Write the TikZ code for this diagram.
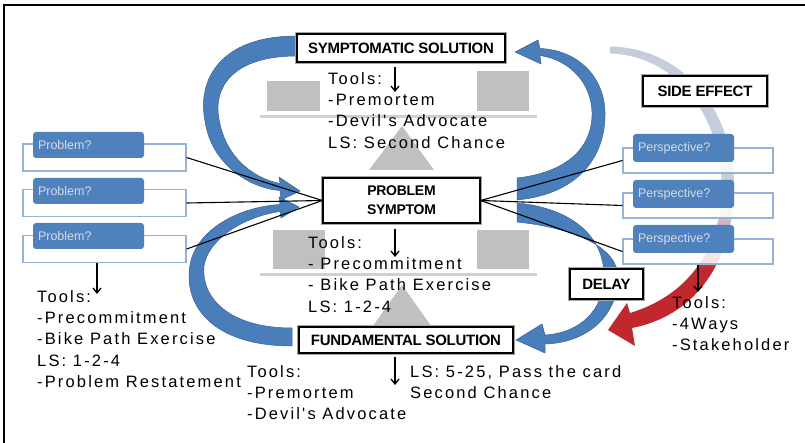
\documentclass[tikz,border=0pt]{standalone}
\usepackage{fontspec}
\setmainfont{Liberation Sans}
\newfontfamily\toolfont[LetterSpace=13]{Liberation Sans}
\newfontfamily\labelfont[LetterSpace=-2]{Liberation Sans}
\usetikzlibrary{arrows.meta}

\definecolor{arrowblue}{RGB}{74,126,187}
\definecolor{arrowedge}{RGB}{58,98,148}
\definecolor{boxblue}{RGB}{79,129,189}
\definecolor{outlineblue}{RGB}{149,179,215}
\definecolor{balancegray}{RGB}{192,192,192}
\definecolor{beamgray}{RGB}{208,208,208}
\definecolor{qtext}{RGB}{212,220,234}
\definecolor{sered}{RGB}{192,40,45}
\definecolor{sepink}{RGB}{222,160,172}
\definecolor{segrey}{RGB}{198,205,218}

\pgfdeclareverticalshading{sideshade}{100bp}{color(0bp)=(sered); color(38bp)=(sered); color(43.5bp)=(sepink); color(48.5bp)=(segrey); color(100bp)=(segrey)}

\tikzset{
    titlebox/.style={
        draw=black,
        line width=1.4pt,
        fill=white,
        inner sep=0pt,
        preaction={draw=black!35, line width=3.4pt},
        font=\labelfont\bfseries\fontsize{15}{17}\selectfont
    },
    qbox/.style={
        fill=boxblue,
        rounded corners=3pt,
        inner xsep=5pt,
        inner ysep=0pt,
        text width=#1,
        align=left,
        text=qtext,
        font=\fontsize{12.5}{14}\selectfont
    },
    qframe/.style={
        draw=outlineblue,
        line width=1.3pt,
        fill=white,
        fill opacity=0.85,
        inner sep=0pt
    },
    tooltext/.style={
        anchor=north west,
        inner sep=0pt,
        align=left,
        font=\toolfont\fontsize{16.5}{21.3}\selectfont
    },
    toolarrow/.style={
        -{Straight Barb[length=5pt, width=8pt]},
        line width=1.3pt
    },
    bigarrow/.style={
        fill=arrowblue,
        draw=arrowedge,
        line width=0.5pt
    },
    feeder/.style={line width=1.1pt}
}

\begin{document}
\begin{tikzpicture}[x=1pt,y=-1pt]
  \useasboundingbox (0,0) rectangle (805,443);
  % Frame
  \draw[line width=2pt] (3.5,443) -- (3.5,5) -- (805,5);

  % Balance behind the symptomatic solution
  \fill[balancegray] (267,81) rectangle (320,111);
  \fill[balancegray] (477,71) rectangle (529,111);
  \draw[beamgray, line width=3pt] (260,117) -- (537,117);
  \fill[balancegray] (369,170) -- (434,170) -- (402,126) -- cycle;

  % Balance behind the fundamental solution
  \fill[balancegray] (273,230) rectangle (325,269);
  \fill[balancegray] (477,230) rectangle (529,269);
  \draw[beamgray, line width=3pt] (260,275) -- (537,275);
  \fill[balancegray] (370,330) -- (434,330) -- (402,285) -- cycle;

  % Side effect arrow
  \shade[shading=sideshade] (610,46.5) .. controls (694,48) and (742,128) .. (733,206)
    .. controls (727,266) and (694,316) .. (632,328)
    -- (635,346) -- (608,330) -- (627,303) -- (630,313)
    .. controls (686,296) and (715,254) .. (721,204)
    .. controls (728,132) and (686,56) .. (610,53.5) -- cycle;

  % Loop arrows
  \path[bigarrow] (297,36) .. controls (218,36) and (197,82) .. (205,121)
    .. controls (211,163) and (248,188) .. (280,190.5)
    -- (281,200) -- (300,191) -- (279,177) -- (280,183.5)
    .. controls (252,178) and (225,156) .. (219,119)
    .. controls (213,88) and (232,56) .. (297,56) -- cycle;
  \path[bigarrow] (292,346) .. controls (212,346) and (183,305) .. (190,265)
    .. controls (196,230) and (238,207) .. (280,204.5)
    -- (279,197) -- (299,207) -- (281,218) -- (280,211.5)
    .. controls (242,217) and (208,240) .. (204,266)
    .. controls (201,297) and (228,328) .. (292,328) -- cycle;
  \path[bigarrow] (517,200) .. controls (580,194) and (606,155) .. (605,112)
    .. controls (604,76) and (577,50) .. (540,48.5)
    -- (538,40) -- (515,52) -- (541,64) -- (540,55.5)
    .. controls (570,60) and (591,83) .. (592,112)
    .. controls (593,145) and (570,172) .. (517,178) -- cycle;
  \path[bigarrow] (517,222) .. controls (575,228) and (619,248) .. (618,278)
    .. controls (617,318) and (585,343) .. (545,344)
    -- (545,353) -- (516,340) -- (542,324) -- (545,335)
    .. controls (580,333) and (604,310) .. (604,276)
    .. controls (604,235) and (570,208) .. (517,203) -- cycle;

  % Problem boxes
  \node[qframe, minimum width=163pt, minimum height=27pt] (probframe1) at (104.5,157.5) {};
  \node[qframe, minimum width=163pt, minimum height=27pt] (probframe2) at (104.5,203) {};
  \node[qframe, minimum width=163pt, minimum height=27pt] (probframe3) at (104.5,249) {};
  \node[qbox=101pt, minimum height=26pt] (prob1) at (88.5,145) {Problem?};
  \node[qbox=101pt, minimum height=26pt] (prob2) at (88.5,191) {Problem?};
  \node[qbox=101pt, minimum height=26pt] (prob3) at (88.5,236) {Problem?};

  % Perspective boxes
  \node[qframe, minimum width=150pt, minimum height=25pt] (perspframe1) at (698,160.5) {};
  \node[qframe, minimum width=150pt, minimum height=25pt] (perspframe2) at (698,205.5) {};
  \node[qframe, minimum width=150pt, minimum height=25pt] (perspframe3) at (698,251.5) {};
  \node[qbox=91pt, minimum height=28pt] (persp1) at (683.5,148) {Perspective?};
  \node[qbox=91pt, minimum height=28pt] (persp2) at (683.5,194) {Perspective?};
  \node[qbox=91pt, minimum height=28pt] (persp3) at (683.5,239) {Perspective?};

  % Main boxes
  \node[titlebox, minimum width=208pt, minimum height=28pt] (sympsol) at (401,48) {SYMPTOMATIC SOLUTION};
  \node[titlebox, minimum width=157pt, minimum height=45pt, align=center,
        font=\labelfont\bfseries\fontsize{14}{19}\selectfont] (probsym) at (401.5,200.5) {PROBLEM\\SYMPTOM};
  \node[titlebox, minimum width=214pt, minimum height=26pt] (fundsol) at (406,340) {FUNDAMENTAL SOLUTION};
  \node[titlebox, minimum width=124pt, minimum height=30pt] (sideeff) at (705,91) {SIDE EFFECT};
  \node[titlebox, minimum width=73pt, minimum height=30pt] (delay) at (606.5,284) {DELAY};

  % Feeders into the symptom
  \draw[feeder] (probframe1.east) -- (probsym.west);
  \draw[feeder] (probframe2.east) -- (probsym.west);
  \draw[feeder] (probframe3.east) -- (probsym.west);
  \draw[feeder] (probsym.east) -- (perspframe1.west);
  \draw[feeder] (probsym.east) -- (perspframe2.west);
  \draw[feeder] (probsym.east) -- (perspframe3.west);

  % Tools
  \node[tooltext] (symptools) at (328,72) {Tools:\\-Premortem\\-Devil's Advocate\\LS: Second Chance};
  \node[tooltext] (midtools) at (308,236) {Tools:\\- Precommitment\\- Bike Path Exercise\\LS: 1-2-4};
  \node[tooltext] (probtools) at (37,290) {Tools:\\-Precommitment\\-Bike Path Exercise\\LS: 1-2-4\\-Problem Restatement};
  \node[tooltext] (fundtools) at (247,365) {Tools:\\-Premortem\\-Devil's Advocate};
  \node[tooltext] (fundls) at (410,365) {LS: 5-25, Pass the card\\Second Chance};
  \node[tooltext] (persptools) at (672,296) {Tools:\\-4Ways\\-Stakeholder};

  % Tool arrows
  \coordinate (symparrowtop) at (395,67);
  \coordinate (symparrowend) at (395,92);
  \coordinate (midarrowtop) at (395,229);
  \coordinate (midarrowend) at (395,257);
  \coordinate (fundarrowtop) at (395,357);
  \coordinate (fundarrowend) at (395,385);
  \coordinate (probarrowtop) at (97,263);
  \coordinate (probarrowend) at (97,294);
  \coordinate (persparrowtop) at (698,265);
  \coordinate (persparrowend) at (698,292);
  \draw[toolarrow] (symparrowtop) -- (symparrowend);
  \draw[toolarrow] (midarrowtop) -- (midarrowend);
  \draw[toolarrow] (fundarrowtop) -- (fundarrowend);
  \draw[toolarrow] (probarrowtop) -- (probarrowend);
  \draw[toolarrow] (persparrowtop) -- (persparrowend);
\end{tikzpicture}
\end{document}
